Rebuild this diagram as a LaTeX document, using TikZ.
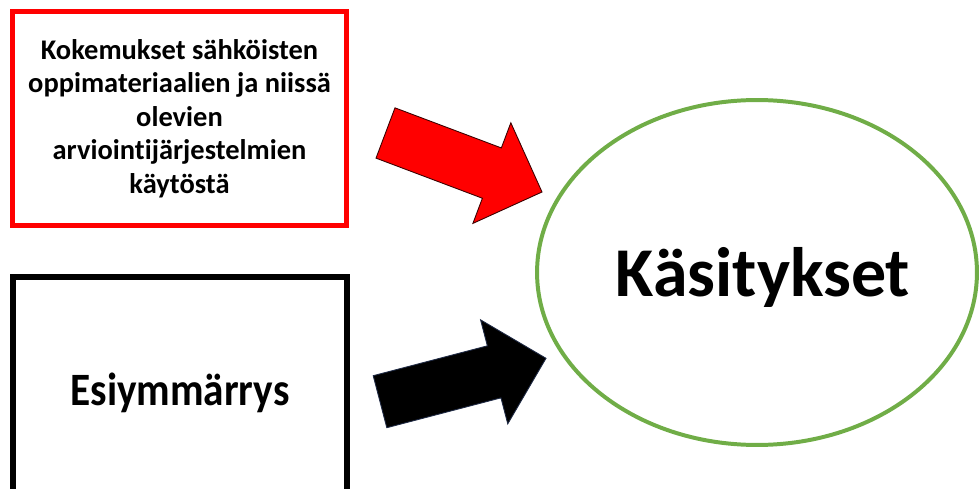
\documentclass[tikz,border=0pt]{standalone}
\usepackage{fontspec}
\setmainfont{Carlito}[Ligatures=NoCommon]
\usetikzlibrary{calc,shapes.geometric}

\definecolor{boxred}{HTML}{FF0000}
\definecolor{ringgreen}{HTML}{70AD47}
\definecolor{rededge}{HTML}{3A0000}
\definecolor{blackedge}{HTML}{1F2A44}

% block arrow from tail centre #2 to tip #3, style #1
\newcommand\blockarrow[3]{%
  \path ($(#3)!30.5pt!(#2)$) coordinate (hb);
  \draw[#1]
    ($(#2)!15.3pt!90:(#3)$) --
    ($(hb)!15.3pt!-90:(#2)$) --
    ($(hb)!30.6pt!-90:(#2)$) --
    (#3) --
    ($(hb)!30.6pt!90:(#2)$) --
    ($(hb)!15.3pt!90:(#2)$) --
    ($(#2)!15.3pt!-90:(#3)$) -- cycle;
}

\tikzset{
  textbox/.style={draw, rectangle, inner sep=0pt, fill=white,
    minimum width=6.68cm, font=\bfseries},
  concept/.style={draw=ringgreen, ellipse, line width=2.27pt,
    minimum width=8.8cm, minimum height=6.9cm, inner sep=0pt},
  redarrow/.style={fill=boxred, draw=rededge, line width=0.5pt, line join=miter},
  blackarrow/.style={fill=black, draw=blackedge, line width=0.5pt, line join=miter}
}

\begin{document}
\begin{tikzpicture}[x=0.02cm, y=-0.02cm]
  \useasboundingbox (0,0) rectangle (979,489);
  \clip (0,0) rectangle (979,489);

  % experiences box
  \node[textbox, draw=boxred, line width=2.83pt, minimum height=4.3cm,
        align=center, font=\bfseries\fontsize{16.2pt}{19.1pt}\selectfont]
    (kok) at (179.5,118.5)
    {Kokemukset sähköisten\\oppimateriaalien ja niissä\\olevien\\arviointijärjestelmien\\käytöstä};

  % prior understanding box (runs past the lower edge)
  \node[textbox, draw=black, line width=3.4pt, minimum height=4.64cm,
        font=\bfseries\fontsize{26.4pt}{31pt}\selectfont]
    (esi) at (180,393) {\scalebox{0.89}[1]{Esiymmärrys}};

  % conceptions
  \node[concept] (kas) at (757,272.5) {};
  \node[font=\bfseries\fontsize{39.8pt}{46pt}\selectfont, inner sep=0pt]
    (kastxt) at (763,277) {Käsitykset};

  % arrows into the ellipse
  \coordinate (ra0) at (385.5,133);
  \coordinate (ra1) at (542,192);
  \blockarrow{redarrow}{ra0}{ra1}

  \coordinate (ba0) at (380,401.7);
  \coordinate (ba1) at (546,358.3);
  \blockarrow{blackarrow}{ba0}{ba1}
\end{tikzpicture}
\end{document}
